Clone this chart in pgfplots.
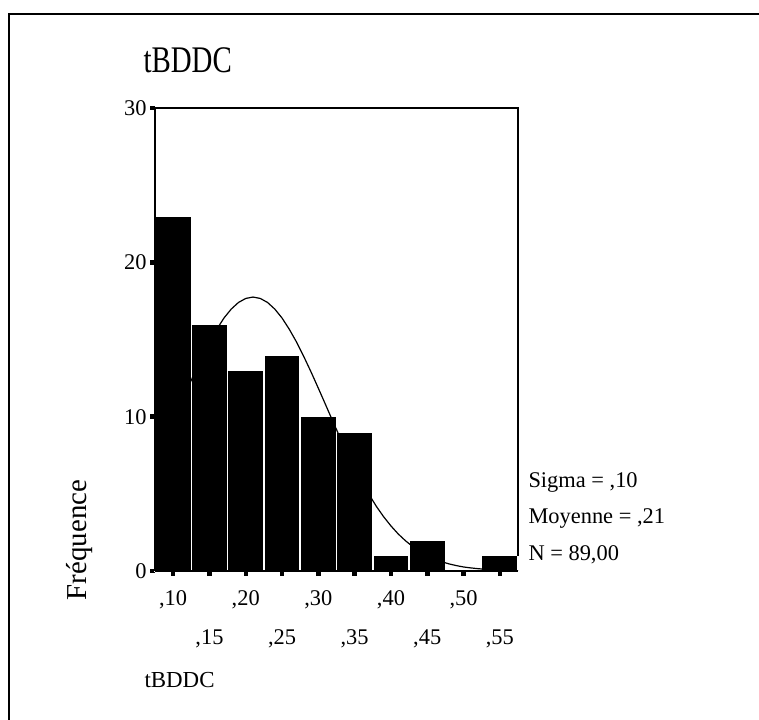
\documentclass[border=0pt]{standalone}
\usepackage{pgfplots}
\pgfplotsset{compat=1.18}
\usepackage{fontspec}
\setmainfont{Liberation Serif}

\begin{document}
\begin{tikzpicture}[x=1bp,y=1bp]
\useasboundingbox (0,0) rectangle (759,720);
% outer frame (only top and left edges visible)
\draw[line width=2bp] (9,0) -- (9,706) -- (759,706);

\begin{axis}[
    at={(155bp,149bp)}, anchor=south west,
    scale only axis,
    width=363bp, height=463bp,
    xmin=0.075, xmax=0.575,
    ymin=0, ymax=30,
    axis line style={draw=none},
    tick pos=left,
    tick align=outside,
    major tick length=5bp,
    tick style={black, line width=4.5bp},
    ytick={0,10,20,30},
    yticklabels={0,10,20,30},
    xtick={0.10,0.20,0.30,0.40,0.50},
    xticklabels={{,10},{,20},{,30},{,40},{,50}},
    extra x ticks={0.15,0.25,0.35,0.45,0.55},
    extra x tick labels={{,15},{,25},{,35},{,45},{,55}},
    extra x tick style={tick label style={yshift=-39bp}},
    tick label style={font=\fontsize{22.5}{25}\selectfont},
    xticklabel style={yshift=-11bp},
    clip=false,
]
% histogram counts (bin centres)
\addplot[ybar, bar width=0.05, bar shift=0, fill=black, draw=white, line width=1.5bp]
  coordinates {(0.10,23) (0.15,16) (0.20,13) (0.25,14) (0.30,10)
               (0.35,9) (0.40,1) (0.45,2) (0.50,0) (0.55,1)};
% normal curve (mean ,21 sigma ,10 N 89)
\addplot[black, line width=1.2bp, mark=none] coordinates {
  (0.075,7.14) (0.08,7.62) (0.09,8.64) (0.10,9.69) (0.11,10.77) (0.12,11.84)
  (0.13,12.89) (0.14,13.89) (0.15,14.83) (0.16,15.66) (0.17,16.39) (0.18,16.97)
  (0.19,17.40) (0.20,17.66) (0.21,17.75) (0.22,17.66) (0.23,17.40) (0.24,16.97)
  (0.25,16.39) (0.26,15.66) (0.27,14.83) (0.28,13.89) (0.29,12.89) (0.30,11.84)
  (0.31,10.77) (0.32,9.69) (0.33,8.64) (0.34,7.62) (0.35,6.66) (0.36,5.76)
  (0.37,4.94) (0.38,4.18) (0.39,3.51) (0.40,2.92) (0.41,2.40) (0.42,1.96)
  (0.43,1.58) (0.44,1.26) (0.45,1.00) (0.46,0.78) (0.47,0.60) (0.48,0.46)
  (0.49,0.35) (0.50,0.26) (0.51,0.20) (0.52,0.15) (0.53,0.11) (0.54,0.08)
  (0.55,0.05) (0.56,0.04) (0.575,0.02)};
% frame of the plot area
\draw[black, line width=2bp] (axis cs:0.575,1.0) -- (axis cs:0.575,30)
  -- (axis cs:0.075,30) -- (axis cs:0.075,0);
\draw[black, line width=1.5bp] (axis cs:0.075,0) -- (axis cs:0.575,0);
\end{axis}

\node[anchor=west, yscale=1.3, font=\fontsize{29}{32}\selectfont] at (140,660) {tBDDC};
\node[anchor=west, font=\fontsize{23}{26}\selectfont] at (141,40) {tBDDC};
\node[rotate=90, font=\fontsize{29}{32}\selectfont] at (80,180) {Fréquence};
\node[anchor=west, font=\fontsize{22.5}{25}\selectfont] at (525,238) {Sigma = ,10};
\node[anchor=west, font=\fontsize{22.5}{25}\selectfont] at (525,201) {Moyenne = ,21};
\node[anchor=west, font=\fontsize{22.5}{25}\selectfont] at (525,165) {N = 89,00};
\end{tikzpicture}
\end{document}
